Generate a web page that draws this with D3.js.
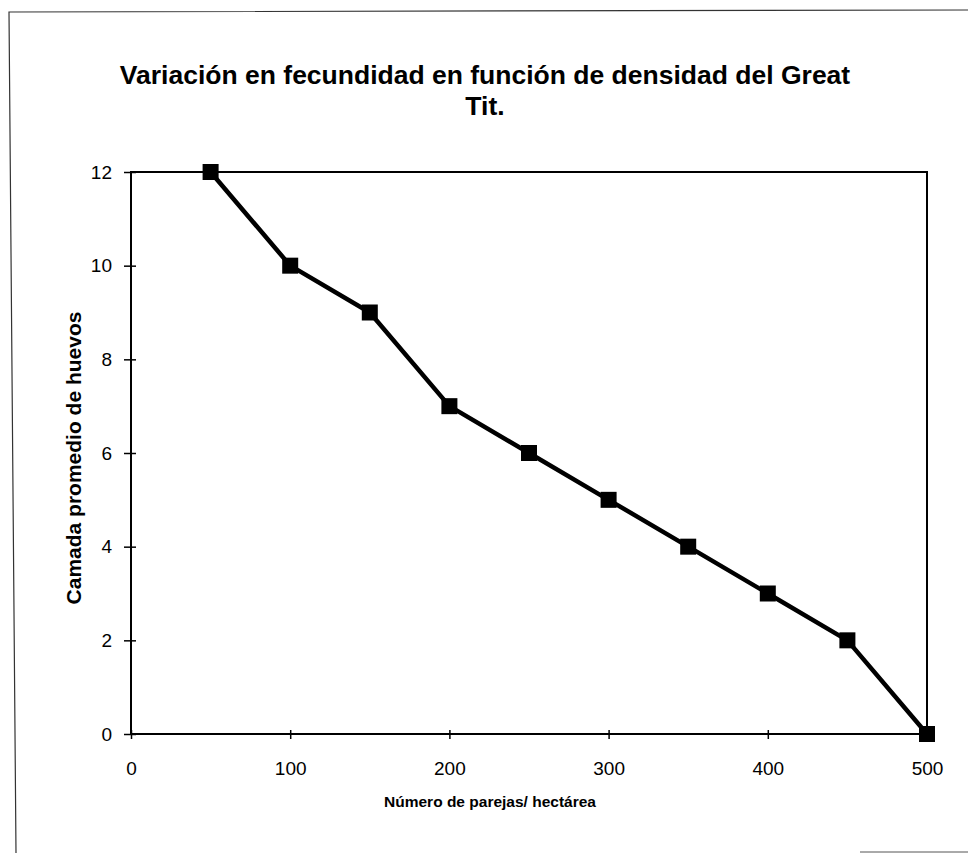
<!DOCTYPE html>
<html>
<head>
  <meta charset="utf-8">
  <title>Great Tit fecundity</title>
  <script src="https://d3js.org/d3.v7.min.js"></script>
  <style>
    body { margin: 0; background: #fff; }
    svg { display: block; font-family: Arial, "Liberation Sans", sans-serif; }
    .tick text { font-size: 19px; fill: #000; }
    .domain { display: none; }
  </style>
</head>
<body>
  <script>
    // data
    const parejas = [50, 100, 150, 200, 250, 300, 350, 400, 450, 500];
    const camada = [12, 10, 9, 7, 6, 5, 4, 3, 2, 0];
    const xTicks = [0, 100, 200, 300, 400, 500];
    const yTicks = [0, 2, 4, 6, 8, 10, 12];
    const titleLines = ["Variación en fecundidad en función de densidad del Great", "Tit."];
    const xTitle = "Número de parejas/ hectárea";
    const yTitle = "Camada promedio de huevos";

    const width = 968, height = 853;
    const plot = { left: 131, right: 927, top: 172, bottom: 734 };

    const svg = d3.select('body').append('svg')
      .attr('width', width)
      .attr('height', height);

    // scanned page border (partial)
    svg.append('path')
      .attr('d', 'M16,853 L9,12 L968,10')
      .attr('fill', 'none')
      .attr('stroke', '#333')
      .attr('stroke-width', 1.2);
    svg.append('line')
      .attr('x1', 860).attr('x2', 968)
      .attr('y1', 852).attr('y2', 852)
      .attr('stroke', '#555');

    const x = d3.scaleLinear().domain([0, 500]).range([plot.left, plot.right]);
    const y = d3.scaleLinear().domain([0, 12]).range([plot.bottom, plot.top]);

    // plot frame
    svg.append('rect')
      .attr('x', plot.left)
      .attr('y', plot.top)
      .attr('width', plot.right - plot.left)
      .attr('height', plot.bottom - plot.top)
      .attr('fill', 'none')
      .attr('stroke', '#000')
      .attr('stroke-width', 2);

    const xAxis = svg.append('g')
      .attr('transform', 'translate(0,' + plot.bottom + ')')
      .call(d3.axisBottom(x).tickValues(xTicks).tickSize(6).tickPadding(22));
    xAxis.selectAll('.tick line')
      .attr('y1', -4).attr('y2', 5)
      .attr('stroke', '#000').attr('stroke-width', 1.5);

    const yAxis = svg.append('g')
      .attr('transform', 'translate(' + plot.left + ',0)')
      .call(d3.axisLeft(y).tickValues(yTicks).tickSize(6).tickPadding(13));
    yAxis.selectAll('.tick line')
      .attr('x1', -7).attr('x2', 5)
      .attr('stroke', '#000').attr('stroke-width', 1.5);

    // series
    const pts = parejas.map((p, i) => [p, camada[i]]);
    const line = d3.line().x(d => x(d[0])).y(d => y(d[1]));
    svg.append('path')
      .datum(pts)
      .attr('d', line)
      .attr('fill', 'none')
      .attr('stroke', '#000')
      .attr('stroke-width', 4.5)
      .attr('stroke-linejoin', 'round');

    const size = 16;
    svg.selectAll('rect.marker')
      .data(pts)
      .enter().append('rect')
      .attr('class', 'marker')
      .attr('x', d => x(d[0]) - size / 2)
      .attr('y', d => y(d[1]) - size / 2)
      .attr('width', size)
      .attr('height', size)
      .attr('fill', '#000');

    // titles
    svg.append('text')
      .attr('x', 485)
      .attr('y', 84)
      .attr('text-anchor', 'middle')
      .style('font-size', '26.5px')
      .style('font-weight', 'bold')
      .selectAll('tspan')
      .data(titleLines)
      .enter().append('tspan')
      .attr('x', 485)
      .attr('dy', (d, i) => i ? 31 : 0)
      .text(d => d);

    svg.append('text')
      .attr('x', 490)
      .attr('y', 807)
      .attr('text-anchor', 'middle')
      .style('font-size', '15.5px')
      .style('font-weight', 'bold')
      .text(xTitle);

    svg.append('text')
      .attr('transform', 'translate(81,458) rotate(-90)')
      .attr('text-anchor', 'middle')
      .style('font-size', '21px')
      .style('font-weight', 'bold')
      .text(yTitle);
  </script>
</body>
</html>
